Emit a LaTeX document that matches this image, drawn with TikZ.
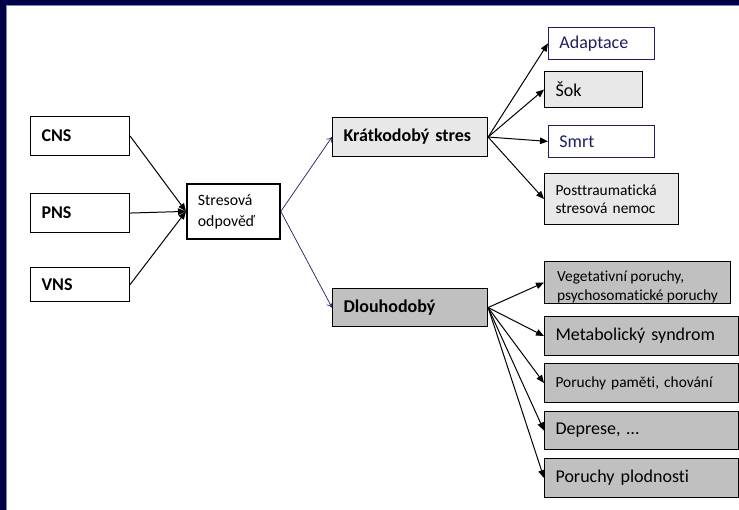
\documentclass[tikz,border=0pt]{standalone}
\usepackage{fontspec}
\setmainfont{Carlito}[Ligatures=CommonOff]
\usetikzlibrary{calc}
\usetikzlibrary{arrows.meta}

\definecolor{slidenavy}{RGB}{0,0,72}
\definecolor{slideline}{RGB}{110,140,200}
\definecolor{textnavy}{RGB}{30,30,100}
\definecolor{lightgrey}{RGB}{232,232,232}
\definecolor{midgrey}{RGB}{192,192,192}

\tikzset{
  box/.style={draw, line width=1.1pt, anchor=north west, align=left,
    inner xsep=11pt, inner ysep=0pt, font=\fontsize{18}{20}\selectfont},
  small/.style={font=\fontsize{15.4}{18}\selectfont},
  bold/.style={font=\bfseries\fontsize{18}{20}\selectfont},
  bluebox/.style={box, draw=textnavy, line width=0.8pt, text=textnavy, fill=white},
  paleBox/.style={box, fill=lightgrey},
  darkBox/.style={box, fill=midgrey},
  feed/.style={line width=1pt, -{Triangle[length=8pt,width=6.5pt]}},
  split/.style={textnavy, line width=0.7pt, -{To[length=5pt,width=7pt]}},
}

\begin{document}
\begin{tikzpicture}[x=1pt,y=-1pt]
            \useasboundingbox (0,0) rectangle (739,510);

            % slide frame
            \fill[slidenavy] (0,0) rectangle (739,510);
            \fill[slideline] (6,5) rectangle (739,510);
            \fill[white] (7,6) rectangle (739,510);

            % inputs
            \node[box, bold, minimum height=39pt, text width=77pt] (cns) at (30,116) {CNS};
            \node[box, bold, minimum height=39pt, text width=77pt] (pns) at (30,193) {PNS};
            \node[box, bold, minimum height=34pt, text width=77pt] (vns) at (30,267) {VNS};

            \node[box, line width=1.8pt, fill=white, minimum height=55pt, text width=71pt,
              font=\fontsize{15.8}{21}\selectfont] (stres) at (186,183) {Stresová\\odpověď};

            % two branches
            \node[paleBox, bold, minimum height=39pt, text width=133pt] (kratk) at (332,117) {Krátkodobý stres};
            \node[darkBox, bold, minimum height=38pt, text width=133pt] (dlouh) at (332,288) {Dlouhodobý};

            % short term
            \node[bluebox, minimum height=32pt, text width=84pt] (adapt) at (548,27) {Adaptace};
            \node[paleBox, minimum height=36pt, text width=76pt] (sok) at (544,71) {Šok};
            \node[bluebox, minimum height=32pt, text width=84pt] (smrt) at (548,125) {Smrt};
            \node[paleBox, small, minimum height=51pt, text width=112pt] (post) at (544,173) {Posttraumatická\\stresová nemoc};

            % long term
            \node[darkBox, minimum height=42pt, text width=164pt] (veg) at (544,261) {};
            \begin{scope}
              \clip (veg.north west) rectangle (veg.south east);
              \node[anchor=base west, align=left, inner sep=0pt,
                font=\fontsize{15.4}{19}\selectfont] (vegtext) at (557,301) {Vegetativní poruchy,\\psychosomatické poruchy};
            \end{scope}
            \node[darkBox, minimum height=39pt, text width=172pt] (meta) at (544,316) {Metabolický syndrom};
            \node[darkBox, small, minimum height=39pt, text width=172pt] (pam) at (544,363) {Poruchy paměti, chování};
            \node[darkBox, minimum height=38pt, text width=172pt] (dep) at (544,411) {Deprese, …};
            \node[darkBox, minimum height=39pt, text width=172pt] (plod) at (544,458) {Poruchy plodnosti};

            \draw[feed] (cns.east) -- (stres.west);
            \draw[feed] (pns.east) -- (stres.west);
            \draw[feed] (vns.east) -- (stres.west);

            \draw[split] (stres.east) -- (kratk.west);
            \draw[split] (stres.east) -- (dlouh.west);

            \foreach \n in {adapt,sok,smrt,post}
              \draw[feed] (kratk.east) -- (\n.west);
            \foreach \n in {veg,meta,pam,dep,plod}
              \draw[feed] (dlouh.east) -- (\n.west);
        \end{tikzpicture}
\end{document}
